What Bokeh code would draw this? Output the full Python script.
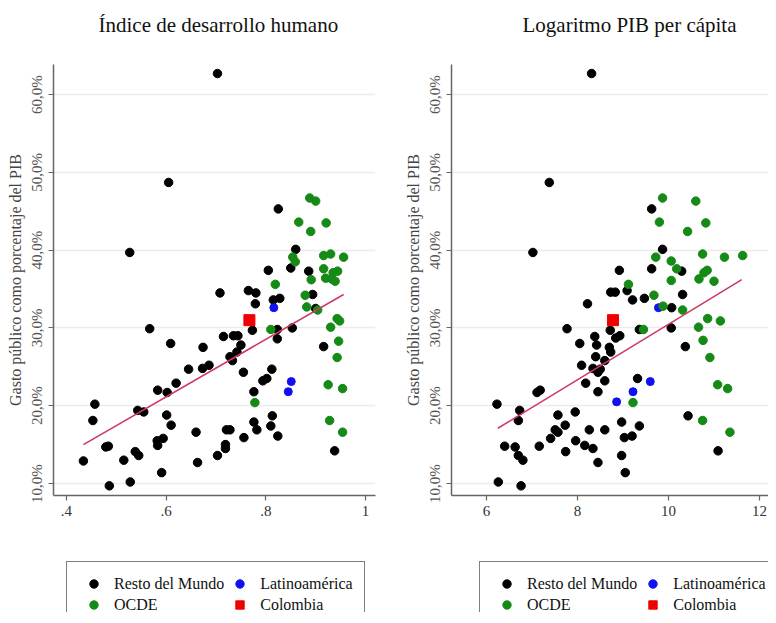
from bokeh.plotting import figure
from bokeh.models import FixedTicker, Legend, LegendItem, Range1d, Title
from bokeh.layouts import row, column
from bokeh.embed import file_html
from bokeh.resources import INLINE

SERIF = "Liberation Serif"

# ---------------- data (y = gasto público, % del PIB) ----------------
# Panel 1: Índice de desarrollo humano
idh_resto_x = [0.434, 0.453, 0.457, 0.479, 0.484, 0.486, 0.515, 0.528, 0.538, 0.545, 0.543, 0.555,
               0.567, 0.583, 0.582, 0.583, 0.594, 0.591, 0.601, 0.602, 0.609, 0.610, 0.620, 0.645,
               0.663, 0.660, 0.673, 0.674, 0.686, 0.703, 0.708, 0.715, 0.719, 0.719, 0.721, 0.728,
               0.728, 0.733, 0.735, 0.744, 0.742, 0.750, 0.755, 0.756, 0.765, 0.780, 0.779, 0.773,
               0.776, 0.776, 0.782, 0.794, 0.802, 0.812, 0.813, 0.810, 0.824, 0.823, 0.823, 0.815,
               0.828, 0.853, 0.894, 0.916, 0.938, 0.900,
               0.703, 0.605, 0.527, 0.825, 0.860, 0.805, 0.850, 0.886]
idh_resto_y = [12.9, 18.1, 20.2, 14.7, 14.8, 9.7, 13.0, 10.2, 14.1, 13.6, 19.4, 19.2,
               29.9, 22.0, 15.5, 14.9, 15.8, 11.4, 18.8, 21.7, 28.0, 17.5, 22.9, 24.7,
               12.7, 16.6, 24.8, 27.5, 25.2, 13.6, 34.5, 28.9, 15.0, 14.5, 16.9, 16.9,
               26.3, 25.8, 29.0, 29.0, 26.9, 27.8, 24.3, 15.9, 34.8, 34.5, 33.1, 29.7,
               21.8, 17.9, 16.9, 23.2, 23.5, 24.7, 18.7, 17.4, 16.1, 28.6, 29.8, 33.6,
               33.8, 30.0, 34.3, 27.6, 14.2, 32.5,
               62.7, 48.7, 39.7, 45.3, 40.1, 37.4, 37.7, 37.3]
idh_ocde_x = [0.888, 0.900, 0.866, 0.921, 0.890, 0.854, 0.859, 0.916, 0.930, 0.956, 0.916, 0.944,
              0.935, 0.920, 0.932, 0.939, 0.891, 0.819, 0.879, 0.882, 0.904, 0.810, 0.778, 0.930,
              0.943, 0.948, 0.946, 0.943, 0.925, 0.954, 0.928, 0.954]
idh_ocde_y = [46.7, 46.3, 43.6, 43.5, 42.4, 39.1, 38.5, 39.3, 39.5, 39.1, 37.6, 37.3,
              37.1, 36.4, 36.3, 36.0, 36.2, 35.6, 34.2, 32.7, 32.3, 29.8, 20.4, 30.1,
              31.2, 30.9, 28.3, 26.2, 22.7, 22.2, 18.1, 16.6]
idh_latam_x = [0.816, 0.851, 0.845]
idh_latam_y = [32.6, 23.1, 21.8]
idh_col_x = [0.767]
idh_col_y = [31.0]
idh_fit_x = [0.434, 0.956]
idh_fit_y = [15.0, 34.3]

# Panel 2: Logaritmo PIB per cápita
pib_resto_x = [6.26, 6.76, 6.23, 6.40, 6.63, 6.70, 6.80, 6.73, 6.70, 7.11, 7.18, 7.16,
               7.41, 7.51, 7.57, 7.57, 7.73, 7.74, 7.77, 7.95, 7.96, 8.05, 8.09, 8.18,
               8.16, 8.22, 8.26, 8.34, 8.38, 8.42, 8.40, 8.34, 8.45, 8.50, 8.45, 8.45,
               8.60, 8.60, 8.60, 8.70, 8.73, 8.72, 8.73, 8.83, 8.84, 8.93, 8.97, 8.97,
               9.03, 9.05, 9.09, 9.20, 9.21, 9.32, 9.36, 9.36, 9.47, 10.07, 10.06, 10.31,
               10.37, 10.43, 11.09,
               8.31, 7.38, 7.02, 9.63, 9.87, 8.92, 9.63, 10.29]
pib_resto_y = [10.2, 9.7, 20.2, 14.8, 14.7, 13.6, 13.0, 19.4, 18.1, 21.7, 22.0, 14.8,
               15.8, 16.9, 18.8, 16.6, 17.5, 14.1, 29.9, 19.2, 15.5, 28.0, 25.2, 22.9,
               14.9, 33.1, 16.9, 14.5, 28.9, 27.8, 26.3, 24.8, 24.3, 24.7, 21.8, 12.7,
               23.2, 25.8, 16.9, 27.5, 26.9, 29.7, 34.6, 34.6, 28.7, 29.0, 17.9, 13.6,
               15.9, 11.4, 34.8, 16.1, 33.6, 23.5, 17.4, 29.8, 33.8, 32.6, 30.0, 34.3,
               27.6, 18.7, 14.2,
               62.7, 48.7, 39.7, 45.3, 40.1, 37.4, 37.6, 37.3]
pib_ocde_x = [9.87, 10.60, 9.80, 10.82, 10.42, 9.72, 10.06, 10.18, 10.75, 11.23, 11.63, 10.85,
              10.78, 10.67, 11.00, 10.06, 9.12, 9.68, 9.88, 10.31, 9.45, 10.66, 10.86, 11.14,
              10.76, 10.91, 11.08, 11.30, 9.22, 10.75, 11.35]
pib_ocde_y = [46.7, 46.3, 43.6, 43.5, 42.4, 39.1, 38.6, 37.6, 39.5, 39.1, 39.3, 37.4,
              37.1, 36.3, 36.0, 36.1, 35.6, 34.2, 32.8, 32.3, 29.8, 30.1, 31.2, 30.9,
              28.4, 26.2, 22.7, 22.2, 20.4, 18.1, 16.6]
pib_latam_x = [9.78, 9.60, 9.22, 8.86]
pib_latam_y = [32.6, 23.1, 21.8, 20.5]
pib_col_x = [8.78]
pib_col_y = [31.0]
pib_fit_x = [6.25, 11.61]
pib_fit_y = [17.1, 36.2]

y_ticks = [10, 20, 30, 40, 50, 60]
y_tick_labels = ["10,0%", "20,0%", "30,0%", "40,0%", "50,0%", "60,0%"]
idh_ticks = [0.4, 0.6, 0.8, 1.0]
idh_tick_labels = [".4", ".6", ".8", "1"]
pib_ticks = [6, 8, 10, 12]
pib_tick_labels = ["6", "8", "10", "12"]

legend_labels = ["Resto del Mundo", "OCDE", "Latinoamérica", "Colombia"]

C_BLACK = "#000000"
C_GREEN = "#168a16"
C_BLUE = "#1010f0"
C_RED = "#f00000"
C_LINE = "#cf3a62"

MAIN_H = 560
LEG_H = 52


def panel(title, title_offset, width, border_left, border_right, xr, ticks, tick_labels,
          rx, ry, ox, oy, lx, ly, cx, cy, fx, fy):
    p = figure(width=width, height=MAIN_H, output_backend="svg", toolbar_location=None,
               title=None,
               x_range=Range1d(*xr), y_range=Range1d(8.46, 63.86),
               min_border_left=border_left, min_border_right=border_right,
               min_border_top=64, min_border_bottom=65)
    p.outline_line_color = None
    p.background_fill_color = "white"
    p.border_fill_color = "white"

    # spacer between frame and title, then the title itself (outer)
    p.add_layout(Title(text=" ", text_font_size="2px", standoff=24), "above")
    p.add_layout(Title(text=title, text_font=SERIF, text_font_size="21px",
                       text_font_style="normal", text_color="#111111",
                       align="left", offset=title_offset, standoff=0), "above")

    p.xgrid.visible = False
    p.ygrid.grid_line_color = "#ececec"
    p.ygrid.grid_line_width = 1.5
    p.ygrid.ticker = FixedTicker(ticks=y_ticks)

    p.xaxis.ticker = FixedTicker(ticks=ticks)
    p.xaxis.major_label_overrides = dict(zip(ticks, tick_labels))
    p.yaxis.ticker = FixedTicker(ticks=y_ticks)
    p.yaxis.major_label_overrides = dict(zip(y_ticks, y_tick_labels))
    p.yaxis.major_label_orientation = "vertical"
    p.yaxis.axis_label = "Gasto público como porcentaje del PIB"
    for ax in (p.xaxis, p.yaxis):
        ax.axis_line_color = "#666666"
        ax.axis_line_width = 1.5
        ax.major_tick_line_color = "#666666"
        ax.major_tick_line_width = 1.2
        ax.major_tick_out = 5
        ax.major_tick_in = 0
        ax.minor_tick_line_color = None
        ax.major_label_text_font = SERIF
        ax.major_label_text_font_size = "15px"
        ax.axis_label_text_font = SERIF
        ax.axis_label_text_font_size = "16px"
        ax.axis_label_text_font_style = "normal"
        ax.axis_label_text_color = "#444444"
    p.xaxis.major_label_text_color = "#333333"
    p.yaxis.major_label_text_color = "#555555"
    p.yaxis.major_label_standoff = 3
    p.yaxis.axis_label_standoff = 3

    p.scatter(rx, ry, marker="circle", size=8.5, color=C_BLACK)
    p.scatter(lx, ly, marker="circle", size=8, color=C_BLUE)
    p.scatter(ox, oy, marker="circle", size=8.5, color=C_GREEN)
    p.line(fx, fy, line_color=C_LINE, line_width=1.6)
    p.scatter(cx, cy, marker="square", size=11, color=C_RED)
    return p


def legend_box(width, box_left, rx, ry, ox, oy, lx, ly, cx, cy):
    # the series are drawn out of view: only their legend entries show
    lf = figure(width=width, height=LEG_H, output_backend="svg", toolbar_location=None,
                x_range=Range1d(-2, -1), y_range=Range1d(-2, -1),
                x_axis_type=None, y_axis_type=None,
                min_border_left=0, min_border_right=0, min_border_top=0, min_border_bottom=0)
    lf.outline_line_color = None
    lf.xgrid.visible = False
    lf.ygrid.visible = False
    lf.background_fill_color = "white"
    lf.border_fill_color = "white"
    r_resto = lf.scatter(rx, ry, marker="circle", color=C_BLACK)
    r_ocde = lf.scatter(ox, oy, marker="circle", color=C_GREEN)
    r_latam = lf.scatter(lx, ly, marker="circle", color=C_BLUE)
    r_col = lf.scatter(cx, cy, marker="square", color=C_RED)
    items = [LegendItem(label=legend_labels[0], renderers=[r_resto]),
             LegendItem(label=legend_labels[1], renderers=[r_ocde]),
             LegendItem(label=legend_labels[2], renderers=[r_latam]),
             LegendItem(label=legend_labels[3], renderers=[r_col])]
    leg = Legend(items=items, ncols=2, location=(box_left, LEG_H - 67))
    leg.label_text_font = SERIF
    leg.label_text_font_size = "16px"
    leg.label_text_color = "#111111"
    leg.border_line_color = "black"
    leg.border_line_width = 1.6
    leg.background_fill_alpha = 1
    leg.padding = 11
    leg.spacing = 0
    leg.margin = 0
    leg.glyph_width = 31
    leg.glyph_height = 21
    leg.label_height = 21
    leg.label_standoff = 5
    lf.add_layout(leg, "center")
    return lf


p1 = panel("Índice de desarrollo humano", 45, 396, 53, 21, (0.374, 1.020),
           idh_ticks, idh_tick_labels,
           idh_resto_x, idh_resto_y, idh_ocde_x, idh_ocde_y,
           idh_latam_x, idh_latam_y, idh_col_x, idh_col_y, idh_fit_x, idh_fit_y)
p2 = panel("Logaritmo PIB per cápita", 71, 372, 55, 0, (5.231, 12.198),
           pib_ticks, pib_tick_labels,
           pib_resto_x, pib_resto_y, pib_ocde_x, pib_ocde_y,
           pib_latam_x, pib_latam_y, pib_col_x, pib_col_y, pib_fit_x, pib_fit_y)
l1 = legend_box(396, 13, idh_resto_x, idh_resto_y, idh_ocde_x, idh_ocde_y,
                idh_latam_x, idh_latam_y, idh_col_x, idh_col_y)
l2 = legend_box(372, 28, pib_resto_x, pib_resto_y, pib_ocde_x, pib_ocde_y,
                pib_latam_x, pib_latam_y, pib_col_x, pib_col_y)

layout = row(column(p1, l1, spacing=0), column(p2, l2, spacing=0), spacing=0)
open("out.html", "w").write(file_html(layout, INLINE))
